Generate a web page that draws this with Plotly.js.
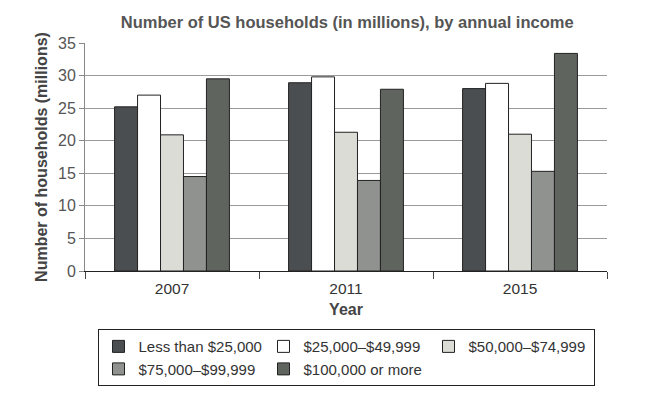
<!DOCTYPE html>
<html>
<head>
<meta charset="utf-8">
<script src="https://cdn.plot.ly/plotly-3.0.1.min.js"></script>
<style>html,body{margin:0;padding:0;background:#fff;}#chart{width:649px;height:412px;}</style>
</head>
<body>
<div id="chart"></div>
<script>
const years = ['2007', '2011', '2015'];
const seriesNames = ['Less than $25,000', '$25,000–$49,999', '$50,000–$74,999', '$75,000–$99,999', '$100,000 or more'];
const lessThan25k = [25.2, 28.9, 28.0];
const from25kTo50k = [27.0, 29.8, 28.8];
const from50kTo75k = [20.9, 21.3, 21.0];
const from75kTo100k = [14.5, 13.9, 15.3];
const over100k = [29.5, 27.9, 33.4];
const seriesValues = [lessThan25k, from25kTo50k, from50kTo75k, from75kTo100k, over100k];
const colors = ['#4b4e50', '#ffffff', '#dcdcd7', '#8f928f', '#5f645f'];
const yTicks = [0, 5, 10, 15, 20, 25, 30, 35];

const font = 'Liberation Sans, Arial, sans-serif';
const traces = seriesNames.map((n, i) => ({
  type: 'bar',
  name: n,
  x: years,
  y: seriesValues[i],
  marker: {color: colors[i], line: {color: '#222', width: 1}},
  hoverinfo: 'none'
}));

const layout = {
  width: 649, height: 412,
  margin: {l: 85, r: 42, t: 43, b: 141, autoexpand: false},
  paper_bgcolor: '#fff', plot_bgcolor: '#fff',
  font: {family: font, color: '#333'},
  title: {text: '<b>Number of US households (in millions), by annual income</b>',
          font: {family: font, size: 16.5, color: '#555'}, x: 0.535, xanchor: 'center', y: 0.947, yanchor: 'middle'},
  barmode: 'group', bargap: 0.34, bargroupgap: 0,
  xaxis: {
    type: 'category',
    showline: true, linecolor: '#222', linewidth: 1,
    ticks: 'outside', tickson: 'boundaries', ticklen: 7, tickcolor: '#444',
    ticklabelstandoff: 3,
    tickfont: {size: 15.5, color: '#333'},
    title: {text: '<b>Year</b>', font: {size: 16, color: '#444'}, standoff: 8}
  },
  yaxis: {
    range: [0, 35], tickvals: yTicks, ticktext: yTicks.map(String),
    showline: true, linecolor: '#888', linewidth: 1,
    showgrid: true, gridcolor: '#9a9a9a', gridwidth: 1,
    zeroline: false,
    ticks: 'outside', ticklen: 5, tickcolor: '#888',
    tickfont: {size: 16, color: '#555'},
    title: {text: '<b>Number of households (millions)</b>', font: {size: 16, color: '#444'}, standoff: 6}
  },
  showlegend: true,
  legend: {
    orientation: 'h', x: 0.5, xanchor: 'center', y: -0.255, yanchor: 'top',
    bordercolor: '#222', borderwidth: 1,
    font: {size: 15, color: '#333'},
    entrywidth: 120, entrywidthmode: 'pixels',
    itemwidth: 30,
    tracegroupgap: 0,
    traceorder: 'normal', itemclick: false
  }
};

Plotly.newPlot('chart', traces, layout, {staticPlot: true, displayModeBar: false});
</script>
</body>
</html>
